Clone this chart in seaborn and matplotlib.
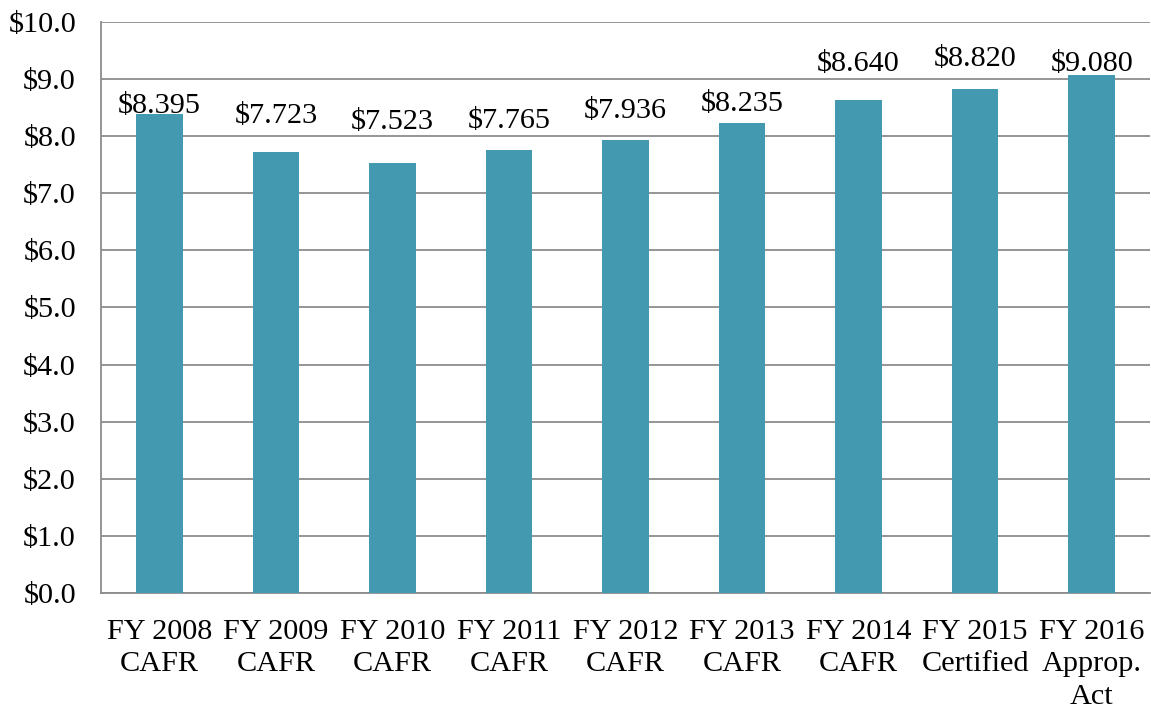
import matplotlib
matplotlib.use("Agg")
import matplotlib.pyplot as plt
import seaborn as sns
import numpy as np

categories = ["FY 2008\nCAFR", "FY 2009\nCAFR", "FY 2010\nCAFR", "FY 2011\nCAFR",
              "FY 2012\nCAFR", "FY 2013\nCAFR", "FY 2014\nCAFR",
              "FY 2015\nCertified", "FY 2016\nApprop.\nAct"]
values = [8.395, 7.723, 7.523, 7.765, 7.936, 8.235, 8.640, 8.820, 9.080]
yticks = [0, 1, 2, 3, 4, 5, 6, 7, 8, 9, 10]
# label gap above each bar (pixels), as placed in the original
label_gap_px = [1, 29, 34, 22, 22, 12, 29, 23, 4]

sns.set_theme(style="white")
plt.rcParams['font.family'] = ['Liberation Serif', 'DejaVu Serif']

FS = 21.8
fig = plt.figure(figsize=(11.51, 7.11), dpi=100)
ax = fig.add_axes([101/1151, 1 - 593/711, 1049/1151, 571/711])

bar_color = "#4399B0"
sns.barplot(x=categories, y=values, color=bar_color, width=0.4, ax=ax,
            saturation=1, linewidth=0, zorder=3)

ax.set_ylim(0, 10)
ax.set_xlim(-0.5, len(categories) - 0.5)
ax.set_yticks(yticks)
ax.set_yticklabels([f"${v:.1f}" for v in yticks], fontsize=FS, color="black")
ax.tick_params(axis="x", which="major", length=0, labelsize=FS, labelcolor="black", pad=18.5)
ax.set_xticks(np.arange(-0.5, len(categories), 1), minor=True)
ax.tick_params(axis="x", which="minor", length=6, width=1.3, color="#8c8c8c", direction="out")
ax.tick_params(axis="y", length=6, width=1.3, color="#8c8c8c", direction="out", pad=12)
for lbl in ax.get_xticklabels():
    lbl.set_linespacing(1.33)

ax.yaxis.grid(True, color="#8c8c8c", linewidth=1.3, zorder=0)
ax.xaxis.grid(False)
ax.set_axisbelow(True)

for side in ["top", "right"]:
    ax.spines[side].set_visible(False)
for side in ["left", "bottom"]:
    ax.spines[side].set_color("#8c8c8c")
    ax.spines[side].set_linewidth(1.3)

for i, v in enumerate(values):
    ax.annotate(f"${v:.3f}", xy=(i, v), xytext=(0, label_gap_px[i] * 0.72),
                textcoords="offset points",
                ha="center", va="baseline", fontsize=FS, color="black", zorder=5)

ax.set_xlabel("")
ax.set_ylabel("")
fig.savefig("out.png", dpi=100)
